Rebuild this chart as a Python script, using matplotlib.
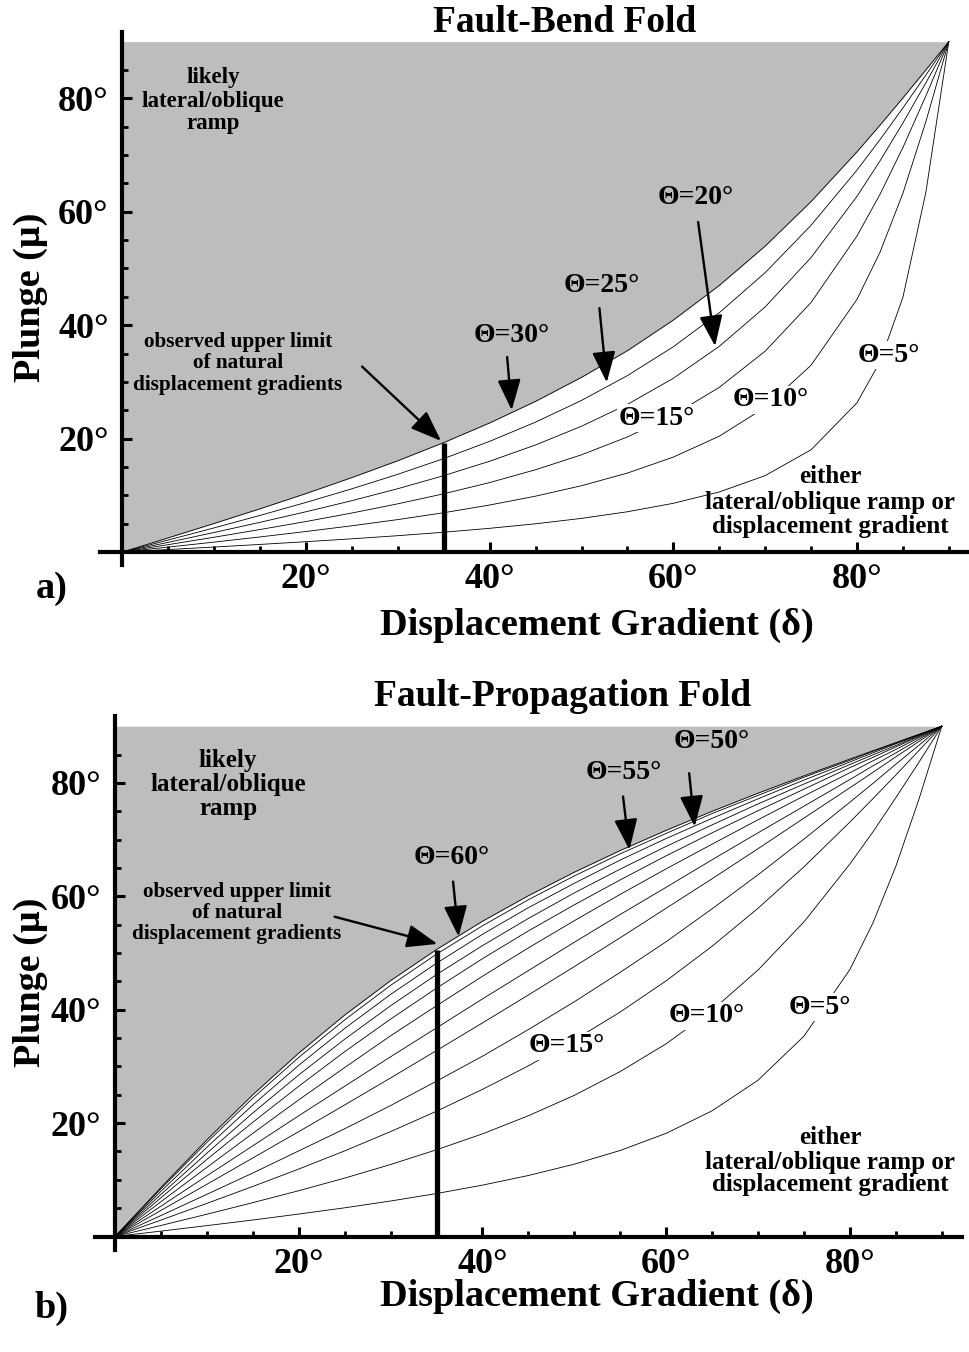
import matplotlib
matplotlib.use('Agg')
import matplotlib.pyplot as plt

plt.rcParams['font.family'] = ['Liberation Serif', 'DejaVu Serif']
plt.rcParams['font.weight'] = 'bold'

W, H = 969, 1352

# ---------------- data ----------------
delta = [0, 5, 10, 15, 20, 25, 30, 35, 40, 45, 50, 55, 60, 65, 70, 75, 80, 82.5, 85, 87.5, 90]

# Fault-bend fold: plunge (deg) vs displacement gradient for ramp angle theta
fb_theta30 = [0, 2.5, 5.04, 7.63, 10.31, 13.13, 16.1, 19.3, 22.76, 26.57, 30.8, 35.5, 40.9, 47.0, 53.94, 61.8, 70.57, 75.25, 80.07, 85.0, 90]
fb_theta25 = [0, 2.12, 4.26, 6.46, 8.75, 11.15, 13.71, 16.48, 19.52, 22.91, 26.73, 31.11, 36.2, 42.19, 49.26, 57.62, 67.35, 72.7, 78.3, 84.1, 90]
fb_theta20 = [0, 1.71, 3.45, 5.24, 7.1, 9.06, 11.17, 13.47, 16.01, 18.88, 22.18, 26.03, 30.64, 36.26, 43.22, 51.93, 62.72, 68.95, 75.65, 82.73, 90]
fb_theta15 = [0, 1.3, 2.61, 3.97, 5.38, 6.88, 8.5, 10.27, 12.25, 14.51, 17.14, 20.29, 24.15, 29.03, 35.41, 44.0, 55.73, 63.05, 71.32, 80.42, 90]
fb_theta10 = [0, 0.87, 1.75, 2.66, 3.62, 4.63, 5.72, 6.93, 8.29, 9.85, 11.69, 13.92, 16.74, 20.42, 25.5, 32.94, 44.55, 52.83, 63.25, 75.88, 90]
fb_theta5 = [0, 0.44, 0.88, 1.34, 1.82, 2.33, 2.88, 3.49, 4.18, 4.98, 5.93, 7.1, 8.59, 10.59, 13.47, 18.03, 26.31, 33.52, 44.9, 63.4, 90]

# Fault-propagation fold
fp_theta60 = [0, 8.66, 17.06, 25.0, 32.35, 39.06, 45.13, 50.62, 55.6, 60.11, 64.25, 68.08, 71.64, 75.0, 78.19, 81.25, 84.21, 85.67, 87.12, 88.56, 90]
fp_theta55 = [0, 8.41, 16.6, 24.4, 31.6, 38.2, 44.3, 49.8, 54.8, 59.4, 63.6, 67.5, 71.1, 74.6, 77.8, 81.0, 84.0, 85.55, 87.0, 88.52, 90]
fp_theta50 = [0, 7.97, 15.75, 23.2, 30.2, 36.7, 42.7, 48.2, 53.3, 58.0, 62.3, 66.4, 70.2, 73.75, 77.2, 80.5, 83.7, 85.3, 86.9, 88.43, 90]
fp_theta45 = [0, 7.43, 14.7, 21.8, 28.5, 34.8, 40.7, 46.2, 51.3, 56.1, 60.6, 64.8, 68.8, 72.6, 76.3, 79.8, 83.25, 84.95, 86.6, 88.32, 90]
fp_theta40 = [0, 6.84, 13.6, 20.15, 26.5, 32.6, 38.35, 43.8, 49.0, 53.9, 58.5, 62.9, 67.15, 71.2, 75.1, 78.9, 82.7, 84.51, 86.35, 88.18, 90]
fp_theta35 = [0, 6.14, 12.2, 18.2, 24.1, 29.8, 35.4, 40.7, 45.9, 50.9, 55.7, 60.35, 64.85, 69.2, 73.5, 77.7, 81.8, 83.89, 85.9, 87.97, 90]
fp_theta30 = [0, 5.35, 10.7, 16.0, 21.3, 26.5, 31.7, 36.8, 41.9, 46.9, 51.9, 56.8, 61.6, 66.45, 71.2, 75.9, 80.6, 83.0, 85.3, 87.66, 90]
fp_theta25 = [0, 4.6, 9.21, 13.85, 18.5, 23.2, 27.97, 32.8, 37.67, 42.6, 47.6, 52.7, 57.9, 63.1, 68.4, 73.8, 79.15, 81.86, 84.6, 87.28, 90]
fp_theta20 = [0, 3.7, 7.44, 11.2, 15.1, 19.0, 23.1, 27.4, 31.8, 36.5, 41.4, 46.6, 52.0, 57.8, 63.8, 70.1, 76.6, 79.91, 83.3, 86.62, 90]
fp_theta15 = [0, 2.9, 5.84, 8.83, 11.9, 15.1, 18.5, 22.1, 25.95, 30.1, 34.65, 39.6, 45.1, 51.2, 57.9, 65.2, 73.1, 77.21, 81.4, 85.69, 90]
fp_theta10 = [0, 1.95, 3.93, 5.97, 8.08, 10.3, 12.7, 15.3, 18.1, 21.3, 24.9, 29.1, 34.0, 39.9, 47.0, 55.5, 65.7, 71.35, 77.4, 83.61, 90]
fp_theta5 = [0, 0.95, 1.92, 2.91, 3.96, 5.06, 6.26, 7.58, 9.06, 10.76, 12.76, 15.18, 18.2, 22.17, 27.57, 35.34, 47.1, 55.28, 65.3, 77.06, 90]

limit_delta = 35          # observed upper limit of natural displacement gradients
fb_limit_top = 19.3
fp_limit_top = 50.6

x_major = [20, 40, 60, 80]
x_major_labels = ['20°', '40°', '60°', '80°']
y_major = [20, 40, 60, 80]
y_major_labels = ['20°', '40°', '60°', '80°']
x_minor = [5, 10, 15, 25, 30, 35, 45, 50, 55, 65, 70, 75, 85, 90]
y_minor = [5, 10, 15, 25, 30, 35, 45, 50, 55, 65, 70, 75, 85]

fb_curves = [fb_theta30, fb_theta25, fb_theta20, fb_theta15, fb_theta10, fb_theta5]
fp_curves = [fp_theta60, fp_theta55, fp_theta50, fp_theta45, fp_theta40, fp_theta35,
             fp_theta30, fp_theta25, fp_theta20, fp_theta15, fp_theta10, fp_theta5]

SHADE = '#bdbdbd'
FS_TICK = 26
FS_BIG = 27.5
FS_THETA = 20
FS_NOTE = 18
FS_OBS = 15.3


def P(x, y):
    return (x / W, 1 - y / H)


fig = plt.figure(figsize=(W / 100, H / 100), dpi=100)


def setup_axes(rect, xlim, ylim):
    ax = fig.add_axes(rect)
    ax.set_xlim(*xlim)
    ax.set_ylim(*ylim)
    for s in ['top', 'right']:
        ax.spines[s].set_visible(False)
    for s in ['left', 'bottom']:
        ax.spines[s].set_position(('data', 0))
        ax.spines[s].set_linewidth(3.0)
        ax.spines[s].set_zorder(6)
    ax.set_xticks(x_major)
    ax.set_xticklabels(x_major_labels)
    ax.set_yticks(y_major)
    ax.set_yticklabels(y_major_labels)
    ax.set_xticks(x_minor, minor=True)
    ax.set_yticks(y_minor, minor=True)
    ax.tick_params(which='major', direction='in', length=7, width=2.2, labelsize=FS_TICK)
    ax.tick_params(which='minor', direction='in', length=4, width=2.0)
    ax.tick_params(axis='x', which='major', pad=8)
    ax.tick_params(axis='y', which='major', pad=10)
    ax.patch.set_alpha(0)
    return ax


def draw_panel(ax, curves, limit_top):
    boundary = curves[0]
    ax.fill_between(delta, boundary, [90] * len(delta), color=SHADE, lw=0, zorder=1)
    for c in curves:
        ax.plot(delta, c, color='black', lw=0.6, zorder=3)
    ax.plot([limit_delta, limit_delta], [0, limit_top], color='black', lw=3.8,
            solid_capstyle='butt', zorder=5)


def arrow(ax, tail, head):
    ax.annotate('', xy=head, xytext=tail,
                arrowprops=dict(arrowstyle='-|>,head_length=0.9,head_width=0.34',
                                lw=1.7, color='black', shrinkA=0, shrinkB=0,
                                mutation_scale=21), zorder=7)


def theta_label(x, y, txt, gap=False):
    kw = {}
    if gap:
        kw['bbox'] = dict(facecolor='white', edgecolor='none', pad=1.5)
    fig.text(*P(x, y), txt, ha='center', va='center', fontsize=FS_THETA, **kw)


# ---------------- top panel: fault-bend fold ----------------
ax1 = setup_axes([100 / W, 1 - 565 / H, 869 / W, 533 / H], (-2.44, 92.2), (-2.29, 91.7))
draw_panel(ax1, fb_curves, fb_limit_top)

arrow(ax1, (26.1, 32.7), (34.7, 19.6))
arrow(ax1, (41.9, 34.4), (42.4, 25.0))
arrow(ax1, (51.95, 43.0), (52.75, 29.9))
arrow(ax1, (62.7, 58.2), (64.55, 36.3))

fig.text(*P(565, 22), 'Fault-Bend Fold', ha='center', va='center', fontsize=27)
theta_label(512, 336, 'Θ=30°')
theta_label(602, 286, 'Θ=25°')
theta_label(696, 197, 'Θ=20°')
theta_label(657, 418, 'Θ=15°', gap=True)
theta_label(771, 400, 'Θ=10°', gap=True)
theta_label(889, 355, 'Θ=5°', gap=True)

for txt, y in zip(['likely', 'lateral/oblique', 'ramp'], [78, 101, 124]):
    fig.text(*P(213, y), txt, ha='center', va='center', fontsize=16.5)
for txt, y in zip(['observed upper limit', 'of natural', 'displacement gradients'], [342, 363, 385]):
    fig.text(*P(238, y), txt, ha='center', va='center', fontsize=FS_OBS)
for txt, y in zip(['either', 'lateral/oblique ramp or', 'displacement gradient'], [477, 502, 527]):
    fig.text(*P(830, y), txt, ha='center', va='center', fontsize=FS_NOTE)

fig.text(*P(597, 625), 'Displacement Gradient (δ)', ha='center', va='center', fontsize=FS_BIG)
fig.text(*P(30, 297), 'Plunge (μ)', ha='center', va='center', rotation=90, fontsize=FS_BIG)
fig.text(*P(52, 588), 'a)', ha='center', va='center', fontsize=FS_BIG)

# ---------------- bottom panel: fault-propagation fold ----------------
ax2 = setup_axes([95 / W, 1 - 1250 / H, 867 / W, 534 / H], (-2.18, 92.2), (-2.38, 91.8))
draw_panel(ax2, fp_curves, fp_limit_top)

arrow(ax2, (23.9, 56.4), (35.1, 51.6))
arrow(ax2, (36.8, 62.6), (37.4, 52.9))
arrow(ax2, (55.3, 77.6), (56.0, 68.2))
arrow(ax2, (62.5, 81.7), (63.1, 72.3))

fig.text(*P(563, 697), 'Fault-Propagation Fold', ha='center', va='center', fontsize=27)
theta_label(452, 858, 'Θ=60°')
theta_label(624, 773, 'Θ=55°')
theta_label(712, 742, 'Θ=50°')
theta_label(567, 1046, 'Θ=15°', gap=True)
theta_label(707, 1016, 'Θ=10°', gap=True)
theta_label(820, 1007, 'Θ=5°', gap=True)

for txt, y in zip(['likely', 'lateral/oblique', 'ramp'], [760, 784, 809]):
    fig.text(*P(228, y), txt, ha='center', va='center', fontsize=FS_NOTE)
for txt, y in zip(['observed upper limit', 'of natural', 'displacement gradients'], [892, 913, 934]):
    fig.text(*P(237, y), txt, ha='center', va='center', fontsize=FS_OBS)
for txt, y in zip(['either', 'lateral/oblique ramp or', 'displacement gradient'], [1137, 1162, 1185]):
    fig.text(*P(830, y), txt, ha='center', va='center', fontsize=FS_NOTE)

fig.text(*P(597, 1296), 'Displacement Gradient (δ)', ha='center', va='center', fontsize=FS_BIG)
fig.text(*P(30, 982), 'Plunge (μ)', ha='center', va='center', rotation=90, fontsize=FS_BIG)
fig.text(*P(52, 1308), 'b)', ha='center', va='center', fontsize=FS_BIG)

fig.savefig('out.png', dpi=100, facecolor='white')
